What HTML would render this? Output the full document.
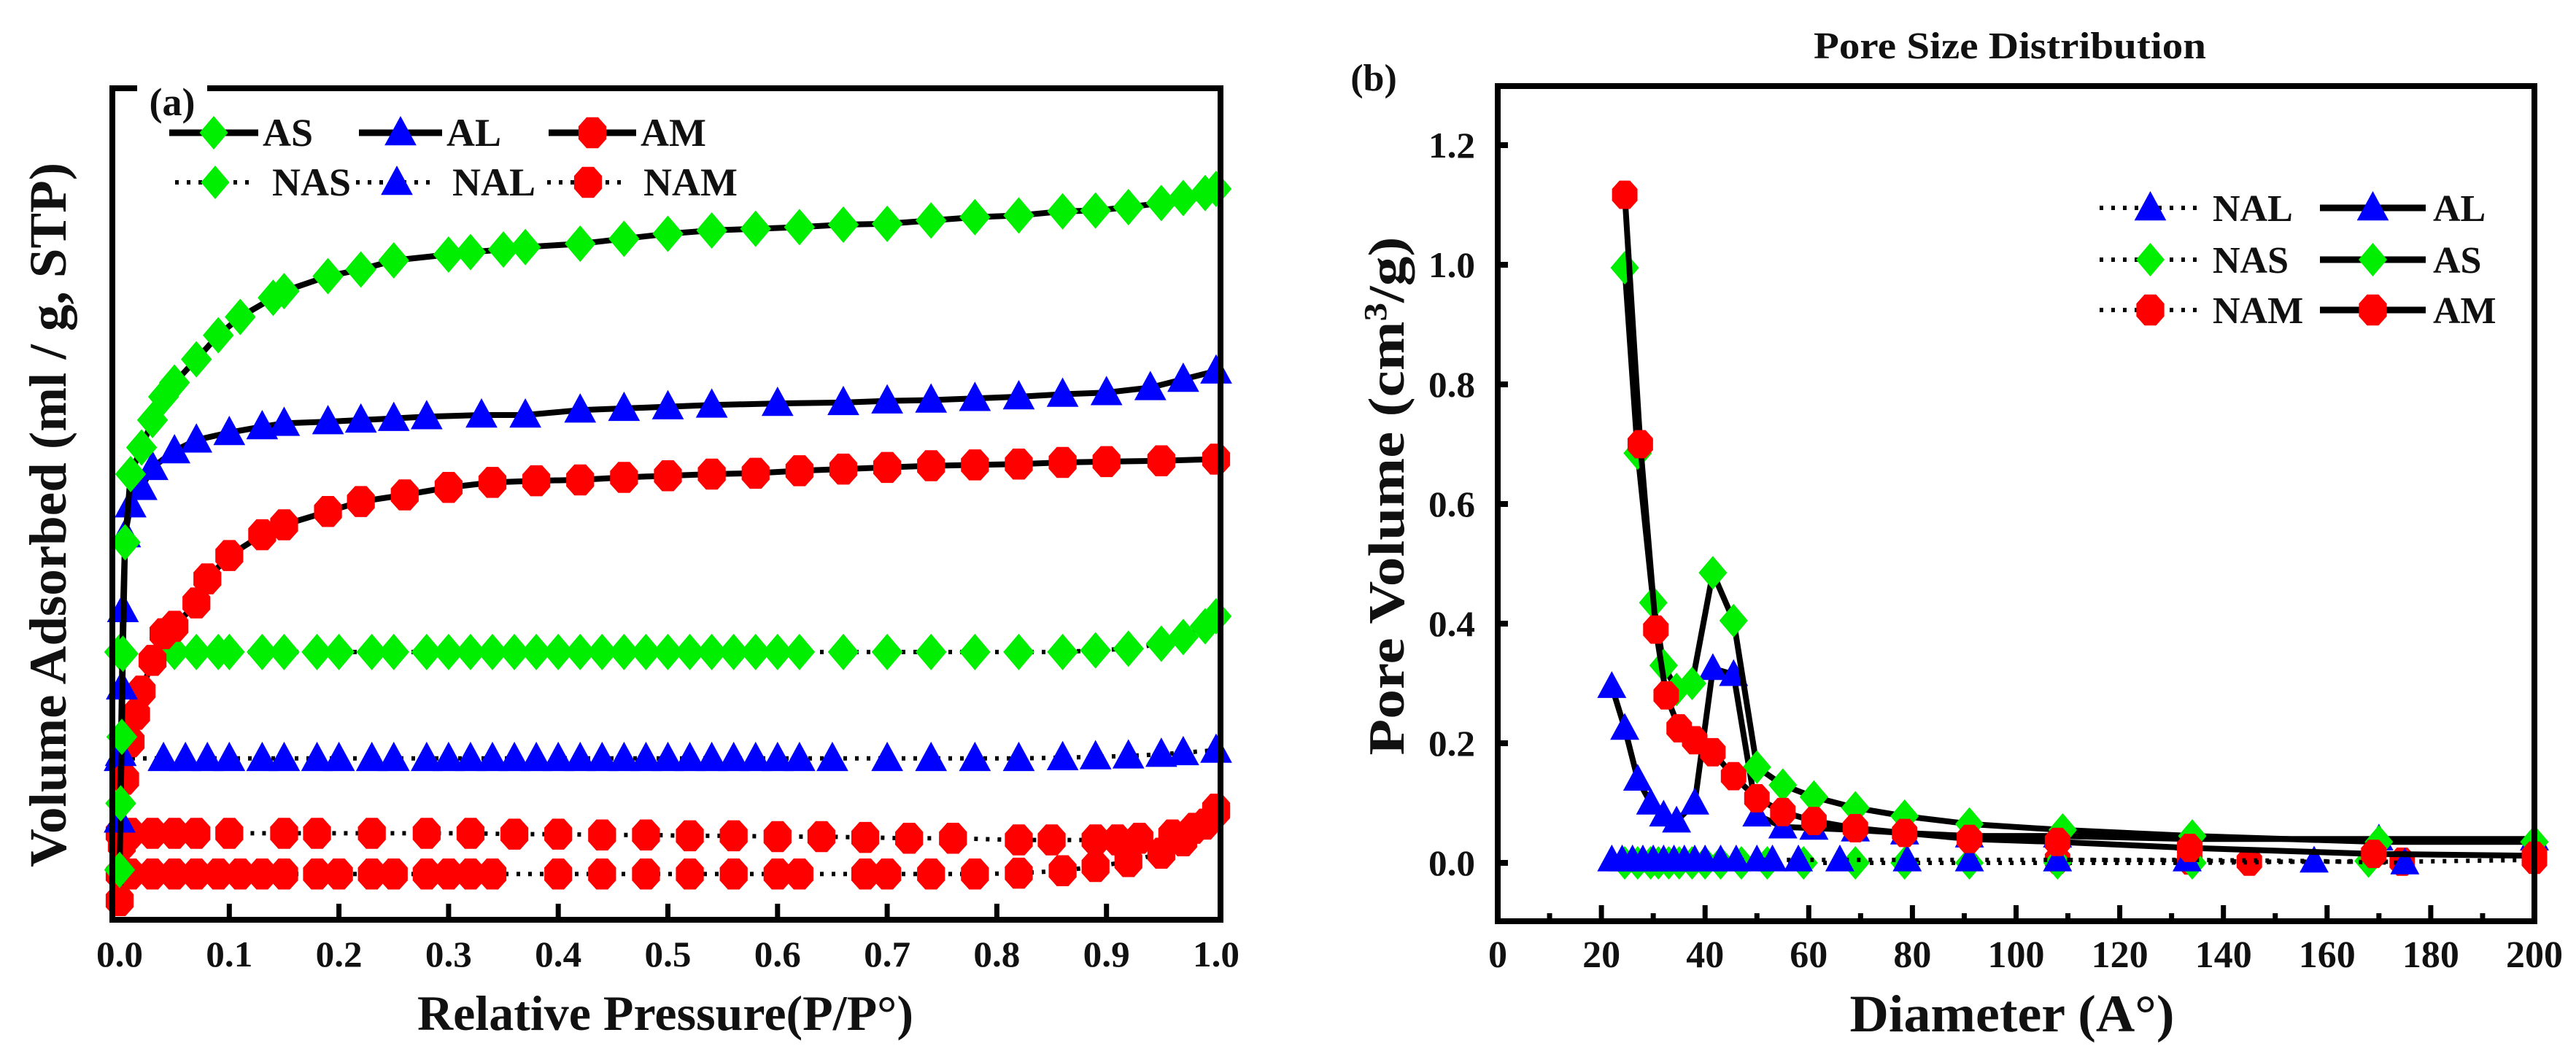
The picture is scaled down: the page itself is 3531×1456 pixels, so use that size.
<!DOCTYPE html>
<html><head><meta charset="utf-8">
<style>
html,body{margin:0;padding:0;background:#fff;}
svg{display:block;}
text{font-family:"Liberation Serif",serif;font-weight:bold;fill:#111;}
</style></head>
<body>
<svg id="fig" width="3531" height="1456" viewBox="0 0 3531 1456" xmlns="http://www.w3.org/2000/svg">
<rect x="0" y="0" width="3531" height="1456" fill="#fff"/>
<g id="pa"></g>
<g id="pb"></g>
</svg>
<script>
// ---------- Panel (a) data: relative pressure vs volume (relative units 0-100) ----------
const asX = [0,0.001,0.002,0.003,0.005,0.01,0.02,0.03,0.04,0.05,0.07,0.09,0.11,0.14,0.15,0.19,0.22,0.25,0.3,0.32,0.35,0.37,0.42,0.46,0.5,0.54,0.58,0.62,0.66,0.7,0.74,0.78,0.82,0.86,0.89,0.92,0.95,0.97,0.99,1.0];
const asY = [6,14,22,32,45.4,53.6,56.8,60.1,62.9,64.6,67.4,70.3,72.5,74.8,75.6,77.4,78.2,79.3,80.0,80.3,80.6,80.9,81.3,81.9,82.5,82.9,83.1,83.3,83.6,83.7,84.1,84.5,84.7,85.2,85.3,85.7,86.2,86.8,87.4,87.9];
const alX = [0,0.001,0.002,0.003,0.005,0.01,0.02,0.03,0.05,0.07,0.1,0.13,0.15,0.19,0.22,0.25,0.28,0.33,0.37,0.42,0.46,0.5,0.54,0.6,0.66,0.7,0.74,0.78,0.82,0.86,0.9,0.94,0.97,1.0];
const alY = [12,20,28,37.3,46.3,49.9,52.0,54.4,56.4,57.7,58.6,59.3,59.7,59.9,60.1,60.3,60.5,60.7,60.7,61.3,61.5,61.7,61.9,62.1,62.2,62.4,62.5,62.7,62.9,63.2,63.4,64.0,65.0,66.0];
const amX = [0,0.002,0.005,0.01,0.015,0.02,0.03,0.04,0.05,0.07,0.08,0.1,0.13,0.15,0.19,0.22,0.26,0.3,0.34,0.38,0.42,0.46,0.5,0.54,0.58,0.62,0.66,0.7,0.74,0.78,0.82,0.86,0.9,0.95,1.0];
const amY = [2.3,9,16.9,21.4,24.7,27.5,31.2,34.4,35.3,38.1,41.0,43.8,46.3,47.5,49.1,50.3,51.1,52.0,52.6,52.8,52.9,53.2,53.4,53.6,53.7,54.0,54.2,54.4,54.6,54.7,54.8,55.0,55.1,55.2,55.4];
const nasX = [0,0.05,0.07,0.09,0.1,0.13,0.15,0.18,0.2,0.23,0.25,0.28,0.3,0.32,0.34,0.36,0.38,0.4,0.42,0.44,0.46,0.48,0.5,0.52,0.54,0.56,0.58,0.6,0.62,0.66,0.7,0.74,0.78,0.82,0.86,0.89,0.92,0.95,0.97,0.99,1.0];
const nasY = [32.2,32.2,32.2,32.2,32.2,32.2,32.2,32.2,32.2,32.2,32.2,32.2,32.2,32.2,32.2,32.2,32.2,32.2,32.2,32.2,32.2,32.2,32.2,32.2,32.2,32.2,32.2,32.2,32.2,32.2,32.2,32.2,32.2,32.2,32.2,32.4,32.6,33.2,34.0,35.3,36.5];
const nalX = [0,0.04,0.06,0.08,0.1,0.13,0.15,0.18,0.2,0.23,0.25,0.28,0.3,0.32,0.34,0.36,0.38,0.4,0.42,0.44,0.46,0.48,0.5,0.52,0.54,0.56,0.58,0.6,0.62,0.65,0.7,0.74,0.78,0.82,0.86,0.89,0.92,0.95,0.97,1.0];
const nalY = [19.4,19.4,19.4,19.4,19.4,19.4,19.4,19.4,19.4,19.4,19.4,19.4,19.4,19.4,19.4,19.4,19.4,19.4,19.4,19.4,19.4,19.4,19.4,19.4,19.4,19.4,19.4,19.4,19.4,19.4,19.4,19.4,19.4,19.4,19.5,19.6,19.7,19.9,20.1,20.4];
const namAdsX = [0,0.01,0.03,0.05,0.07,0.09,0.11,0.13,0.15,0.18,0.2,0.23,0.25,0.28,0.3,0.32,0.34,0.4,0.44,0.48,0.52,0.56,0.6,0.62,0.68,0.7,0.74,0.78,0.82,0.86,0.89,0.92,0.95,0.97,0.99,1.0];
const namAdsY = [5.5,5.5,5.5,5.5,5.5,5.5,5.5,5.5,5.5,5.5,5.5,5.5,5.5,5.5,5.5,5.5,5.5,5.5,5.5,5.5,5.5,5.5,5.5,5.5,5.5,5.5,5.5,5.5,5.6,5.9,6.4,7.0,8.0,9.5,11.5,13.3];
const namDesX = [1.0,0.98,0.96,0.93,0.91,0.89,0.85,0.82,0.76,0.72,0.68,0.64,0.6,0.56,0.52,0.48,0.44,0.4,0.36,0.32,0.28,0.23,0.18,0.15,0.1,0.07,0.05,0.03,0.01,0];
const namDesY = [13.0,11.0,10.2,9.8,9.6,9.6,9.6,9.6,9.8,9.8,9.9,10.0,10.0,10.1,10.1,10.2,10.2,10.3,10.3,10.4,10.4,10.4,10.4,10.4,10.4,10.4,10.4,10.4,10.4,10.4];
const xTicksA = ["0.0","0.1","0.2","0.3","0.4","0.5","0.6","0.7","0.8","0.9","1.0"];

// ---------- Panel (b) data: diameter vs pore volume ----------
const amDX = [24.5,27.5,30.5,32.5,35,38,41.5,45.5,50,55,61,69,78.5,91,108,133.5,169,200];
const amDY = [1.117,0.70,0.39,0.28,0.225,0.205,0.185,0.145,0.108,0.085,0.07,0.058,0.05,0.04,0.035,0.025,0.015,0.012];
const asDX = [24.5,27,30,32,34.5,37.5,41.5,45.5,50,55,61,69,78.5,91,109,134,170,200];
const asDY = [0.995,0.685,0.435,0.33,0.29,0.30,0.485,0.405,0.16,0.13,0.11,0.092,0.078,0.065,0.055,0.045,0.035,0.035];
const alDX = [22,24.5,27,29.5,32,34.5,38,41.5,45.5,50,55,61,69,78.5,91,108,133.5,170,200];
const alDY = [0.295,0.225,0.14,0.10,0.08,0.07,0.10,0.325,0.315,0.08,0.06,0.058,0.055,0.05,0.045,0.045,0.04,0.04,0.04];
const nalDX = [22,24,26,28,30,32,34,36,38,40,43,46,50,53,58,66,79,91,108,133,157.5,175];
const nalDY = [0.005,0.005,0.005,0.005,0.005,0.005,0.005,0.005,0.005,0.005,0.005,0.005,0.005,0.005,0.005,0.005,0.005,0.005,0.005,0.005,0.003,0.0];
const nasDX = [24.5,27,29.5,31,33,35,37.5,40,43,47,52,59,69,78.5,91,108,134,168];
const nasDY = [0,0,0,0,0,0,0,0,0,0,0,0,0,0,0,0,0,0.003];
const namDX = [108,133.5,145,174.5,200];
const namDY = [0.005,0.004,0.002,0.002,0.005];
const xTicksB = ["0","20","40","60","80","100","120","140","160","180","200"];
const yTicksB = ["0.0","0.2","0.4","0.6","0.8","1.0","1.2"];

const NS = "http://www.w3.org/2000/svg";
function mk(parent, tag, attrs){const e=document.createElementNS(NS,tag);for(const k in attrs)e.setAttribute(k,attrs[k]);parent.appendChild(e);return e;}

function marker(g, type, cx, cy, color, s){
  let e;
  if(type==="diamond"){
    e=mk(g,"polygon",{points:`${cx},${cy-s} ${cx+s*0.85},${cy} ${cx},${cy+s} ${cx-s*0.85},${cy}`,fill:color});
  } else if(type==="tri"){
    e=mk(g,"polygon",{points:`${cx},${cy-s} ${cx+s*0.95},${cy+s*0.75} ${cx-s*0.95},${cy+s*0.75}`,fill:color});
  } else {
    const pts=[];for(let i=0;i<8;i++){const a=Math.PI/8+i*Math.PI/4;pts.push(`${cx+s*0.9*Math.cos(a)},${cy+s*Math.sin(a)}`);}
    e=mk(g,"polygon",{points:pts.join(" "),fill:color});
  }
  return e;
}

function series(g, xs, ys, sx, sy, type, color, dotted, ms, name){
  const sg=mk(g,"g",{});
  
  
  const d=xs.map((x,i)=>`${i?"L":"M"}${sx(x).toFixed(1)},${sy(ys[i]).toFixed(1)}`).join(" ");
  const p=mk(sg,"path",{d:d,fill:"none",stroke:"#000","stroke-width":dotted?6:8,"stroke-dasharray":dotted?"5 11":"none","stroke-linejoin":"round"});
  
  
  xs.forEach((x,i)=>{
    const m=marker(sg,type,sx(x),sy(ys[i]),color,ms);
    
    
  });
}

function txt(g,x,y,s,size,anchor,extra){
  const t=mk(g,"text",Object.assign({x:x,y:y,"font-size":size,"text-anchor":anchor||"middle"},extra||{}));
  t.textContent=s;return t;
}

function legendEntry(g,x1,x2,y,type,color,dotted,label,tx,size,name){
  const lg=mk(g,"g",{});
  
  
  mk(lg,"line",{x1:x1,x2:x2,y1:y,y2:y,stroke:"#000","stroke-width":dotted?6:9,"stroke-dasharray":dotted?"5 11":"none"});
  marker(lg,type,(x1+x2)/2,y,color,23);
  txt(lg,tx,y+18,label,size,"start");
}

// ================= Panel (a) =================
(function(){
  const g=document.getElementById("pa");
  const L=154,R=1673,T=121,B=1261;
  const x0=164,x1=1667;
  const sx=v=>x0+v*(x1-x0);
  const sy=v=>B-(v/100)*(B-T);
  series(g,namAdsX,namAdsY,sx,sy,"oct","#ff0000",true,23,"nam-series-ads");
  series(g,namDesX,namDesY,sx,sy,"oct","#ff0000",true,23,"nam-series-des");
  series(g,nalX,nalY,sx,sy,"tri","#0000ff",true,23,"nal-series");
  series(g,nasX,nasY,sx,sy,"diamond","#00ee00",true,25,"nas-series");
  series(g,amX,amY,sx,sy,"oct","#ff0000",false,23,"am-series");
  series(g,alX,alY,sx,sy,"tri","#0000ff",false,23,"al-series");
  series(g,asX,asY,sx,sy,"diamond","#00ee00",false,25,"as-series");
  const fr=mk(g,"rect",{x:L,y:T,width:R-L,height:B-T,fill:"none",stroke:"#000","stroke-width":8});
  
  
  mk(g,"rect",{x:188,y:105,width:96,height:50,fill:"#fff"});
  const lab=txt(g,236,158,"(a)",54,"middle");
  
  
  xTicksA.forEach((s,i)=>{
    const v=i/10,x=sx(v);
    if(i>0&&i<10) mk(g,"line",{x1:x,x2:x,y1:B,y2:B-22,stroke:"#000","stroke-width":7});
    const t=txt(g,x,1325,s,50,"middle",{textLength:64,lengthAdjust:"spacingAndGlyphs"});
    
    
  });
  const xl=txt(g,912,1412,"Relative Pressure(P/P°)",68,"middle",{textLength:680,lengthAdjust:"spacingAndGlyphs"});
  
  
  const yl=txt(g,0,0,"Volume Adsorbed (ml / g, STP)",72,"middle",{transform:"translate(90,706) rotate(-90)",textLength:966,lengthAdjust:"spacingAndGlyphs"});
  
  
  legendEntry(g,232,354,182,"diamond","#00ee00",false,"AS",360,54,"legend-entry-as");
  legendEntry(g,492,606,182,"tri","#0000ff",false,"AL",612,54,"legend-entry-al");
  legendEntry(g,752,872,182,"oct","#ff0000",false,"AM",878,54,"legend-entry-am");
  legendEntry(g,240,350,250,"diamond","#00ee00",true,"NAS",373,54,"legend-entry-nas");
  legendEntry(g,488,600,250,"tri","#0000ff",true,"NAL",620,54,"legend-entry-nal");
  legendEntry(g,750,862,250,"oct","#ff0000",true,"NAM",882,54,"legend-entry-nam");
})();

// ================= Panel (b) =================
(function(){
  const g=document.getElementById("pb");
  const L=2053,R=3474,T=118,B=1263;
  const sx=v=>L+v/200*(R-L);
  const y0=1183,ppu=820;
  const sy=v=>y0-v*ppu;
  series(g,namDX,namDY,sx,sy,"oct","#ff0000",true,21,"nam-psd-series");
  series(g,nasDX,nasDY,sx,sy,"diamond","#00ee00",true,23,"nas-psd-series");
  series(g,nalDX,nalDY,sx,sy,"tri","#0000ff",true,21,"nal-psd-series");
  series(g,alDX,alDY,sx,sy,"tri","#0000ff",false,21,"al-psd-series");
  series(g,asDX,asDY,sx,sy,"diamond","#00ee00",false,23,"as-psd-series");
  series(g,amDX,amDY,sx,sy,"oct","#ff0000",false,21,"am-psd-series");
  const fr=mk(g,"rect",{x:L,y:T,width:R-L,height:B-T,fill:"none",stroke:"#000","stroke-width":8});
  
  
  xTicksB.forEach((s,i)=>{
    const v=i*20,x=sx(v);
    if(i>0&&i<10) mk(g,"line",{x1:x,x2:x,y1:B,y2:B-22,stroke:"#000","stroke-width":7});
    if(i<10){const m=sx(v+10);mk(g,"line",{x1:m,x2:m,y1:B,y2:B-11,stroke:"#000","stroke-width":7});}
    const t=txt(g,x,1326,s,52,"middle");
    
    
  });
  yTicksB.forEach((s,i)=>{
    const v=i*0.2,y=sy(v);
    mk(g,"line",{x1:L,x2:L+14,y1:y,y2:y,stroke:"#000","stroke-width":8});
    const t=txt(g,2022,y+17,s,50,"end",{textLength:64,lengthAdjust:"spacingAndGlyphs"});
    
    
  });
  const ti=txt(g,2755,80,"Pore Size Distribution",52,"middle",{textLength:538,lengthAdjust:"spacingAndGlyphs"});
  
  
  const lb=txt(g,1883,124,"(b)",52,"middle");
  
  
  const xl=txt(g,2758,1414,"Diameter (A°)",72,"middle",{textLength:445,lengthAdjust:"spacingAndGlyphs"});
  
  
  const yl=mk(g,"text",{x:0,y:0,"font-size":70,"text-anchor":"middle",transform:"translate(1924,680) rotate(-90)",textLength:711,lengthAdjust:"spacingAndGlyphs"});
  yl.innerHTML='Pore Volume  (cm<tspan dy="-24" font-size="44">3</tspan><tspan dy="24">/g)</tspan>';
  
  
  legendEntry(g,2878,3017,285,"tri","#0000ff",true,"NAL",3033,52,"legend-entry-nal-b");
  legendEntry(g,3180,3325,285,"tri","#0000ff",false,"AL",3335,52,"legend-entry-al-b");
  legendEntry(g,2878,3017,356,"diamond","#00ee00",true,"NAS",3033,52,"legend-entry-nas-b");
  legendEntry(g,3180,3325,356,"diamond","#00ee00",false,"AS",3335,52,"legend-entry-as-b");
  legendEntry(g,2878,3017,425,"oct","#ff0000",true,"NAM",3033,52,"legend-entry-nam-b");
  legendEntry(g,3180,3325,425,"oct","#ff0000",false,"AM",3335,52,"legend-entry-am-b");
})();
</script>
</body></html>
